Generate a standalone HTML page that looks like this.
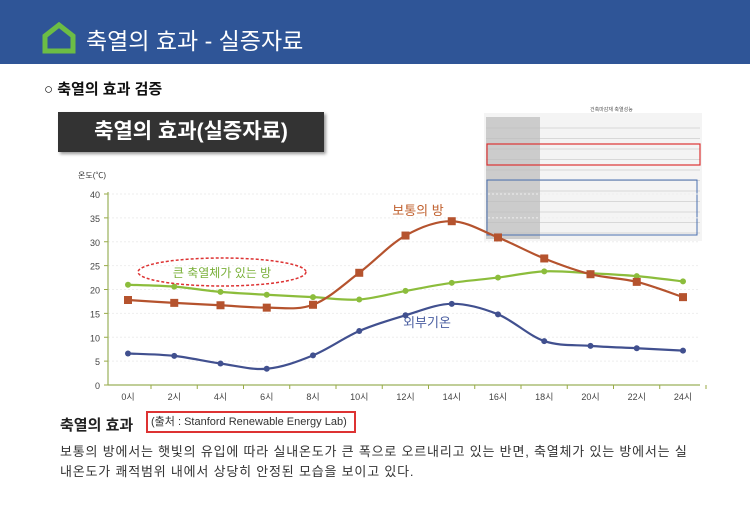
<!DOCTYPE html>
<html><head><meta charset="utf-8"><style>
body{margin:0;width:750px;height:520px;overflow:hidden;background:#fff;font-family:"Liberation Sans","Noto Sans CJK KR",sans-serif;position:relative}
.hdr{position:absolute;left:0;top:0;width:750px;height:64px;background:#2f5597}
.hdr .t{position:absolute;left:86px;top:26px;color:#fff;font-size:23px;line-height:30px}
.sub{position:absolute;left:44px;top:78px;font-size:15px;font-weight:bold;color:#111}
.box{position:absolute;left:58px;top:112px;width:266px;height:40px;background:#333;color:#fff;font-size:21px;font-weight:bold;text-align:center;line-height:40px;box-shadow:2px 2px 3px #999}
.cap{position:absolute;left:60px;top:414px;font-size:15px;font-weight:bold;color:#222}
.src{position:absolute;left:146px;top:411px;border:2px solid #d33;font-size:11px;line-height:18px;padding-left:3px;box-sizing:border-box;width:210px;height:22px;color:#333}
.p{position:absolute;left:60px;top:442px;font-size:13px;line-height:20px;color:#333;width:680px;letter-spacing:0.8px;white-space:nowrap}
</style></head><body>
<div class="hdr"><svg style="position:absolute;left:41px;top:22px" width="36" height="32"><path d="M4 14 L18 3 L32 14 L32 29 L4 29 Z" fill="none" stroke="#6cbd45" stroke-width="5"/></svg><div class="t">축열의 효과 - 실증자료</div></div>
<div class="sub">○ 축열의 효과 검증</div>
<div class="box">축열의 효과(실증자료)</div>
<svg id="c" style="position:absolute;left:0;top:0" width="750" height="520"></svg>
<div class="cap">축열의 효과</div>
<div class="src">(출처 : Stanford Renewable Energy Lab)</div>
<div class="p">보통의 방에서는 햇빛의 유입에 따라 실내온도가 큰 폭으로 오르내리고 있는 반면, 축열체가 있는 방에서는 실<br>내온도가 쾌적범위 내에서 상당히 안정된 모습을 보이고 있다.</div>
<script>
var s='';
function X(i){return 128+i*46.25}function Y(v){return 385-4.775*v}
s+='<rect x="484" y="113" width="218" height="128" fill="#f4f4f4"/>';
s+='<rect x="486" y="117" width="54" height="122" fill="#ccc"/>';
for(var r=0;r<11;r++){s+='<line x1="486" x2="700" y1="'+(128+r*10.5)+'" y2="'+(128+r*10.5)+'" stroke="#bbb" stroke-width="0.6"/>'}
s+='<rect x="487" y="144" width="213" height="21" fill="none" stroke="#d33" stroke-width="1.2"/>';
s+='<rect x="487" y="180" width="210" height="55" fill="none" stroke="#4a6fb0" stroke-width="1"/>';
s+='<text x="590" y="111" font-size="5" fill="#555">건축마감재 축열성능</text>';
s+='<text x="78" y="178" font-size="8" fill="#333">온도(℃)</text>';
for(var v=0;v<=40;v+=5){s+='<text x="100" y="'+(Y(v)+4)+'" font-size="9" text-anchor="end" fill="#444">'+v+'</text>';if(v>0)s+='<line x1="108" x2="700" y1="'+Y(v)+'" y2="'+Y(v)+'" stroke="#eee" stroke-dasharray="2,2"/>';s+='<line x1="104" x2="108" y1="'+Y(v)+'" y2="'+Y(v)+'" stroke="#9a4"/>'}
s+='<line x1="108" x2="108" y1="192" y2="385" stroke="#9ab05a" stroke-width="1.2"/><line x1="108" x2="700" y1="385" y2="385" stroke="#9ab05a" stroke-width="1.2"/>';
for(var i=0;i<13;i++){s+='<line x1="'+(X(i)+23)+'" x2="'+(X(i)+23)+'" y1="385" y2="389" stroke="#9a4"/><text x="'+X(i)+'" y="400" font-size="9" text-anchor="middle" fill="#444">'+(i*2)+'시</text>'}
function line(d,col,mk){var p=d.map(function(v,i){return[X(i),Y(v)]});var str='M'+p[0];for(var i=0;i<p.length-1;i++){var a=p[i-1]||p[i],b=p[i],c=p[i+1],e=p[i+2]||c;str+=' C'+(b[0]+(c[0]-a[0])/6)+','+(b[1]+(c[1]-a[1])/6)+' '+(c[0]-(e[0]-b[0])/6)+','+(c[1]-(e[1]-b[1])/6)+' '+c}
s+='<path d="'+str+'" fill="none" stroke="'+col+'" stroke-width="2.2"/>';p.forEach(function(q){s+=mk=='s'?'<rect x="'+(q[0]-4)+'" y="'+(q[1]-4)+'" width="8" height="8" fill="'+col+'"/>':'<circle cx="'+q[0]+'" cy="'+q[1]+'" r="3" fill="'+col+'"/>'})}
line([6.6,6.1,4.5,3.4,6.2,11.3,14.6,17,14.8,9.2,8.2,7.7,7.2],'#41508f','c');
line([21,20.6,19.5,18.9,18.4,17.9,19.7,21.4,22.5,23.8,23.4,22.8,21.7],'#8cbd3c','c');
line([17.8,17.2,16.7,16.2,16.8,23.5,31.3,34.3,30.9,26.5,23.2,21.6,18.4],'#b5532e','s');
s+='<ellipse cx="222" cy="272" rx="84" ry="14" fill="none" stroke="#d33" stroke-width="1.5" stroke-dasharray="3,2"/>';
s+='<text x="222" y="277" font-size="12" text-anchor="middle" fill="#7ab03a">큰 축열체가 있는 방</text>';
s+='<text x="418" y="215" font-size="13" text-anchor="middle" fill="#c0602e">보통의 방</text>';
s+='<text x="427" y="327" font-size="13" text-anchor="middle" fill="#4a5ea0">외부기온</text>';
document.getElementById('c').innerHTML=s;
</script>
</body></html>
